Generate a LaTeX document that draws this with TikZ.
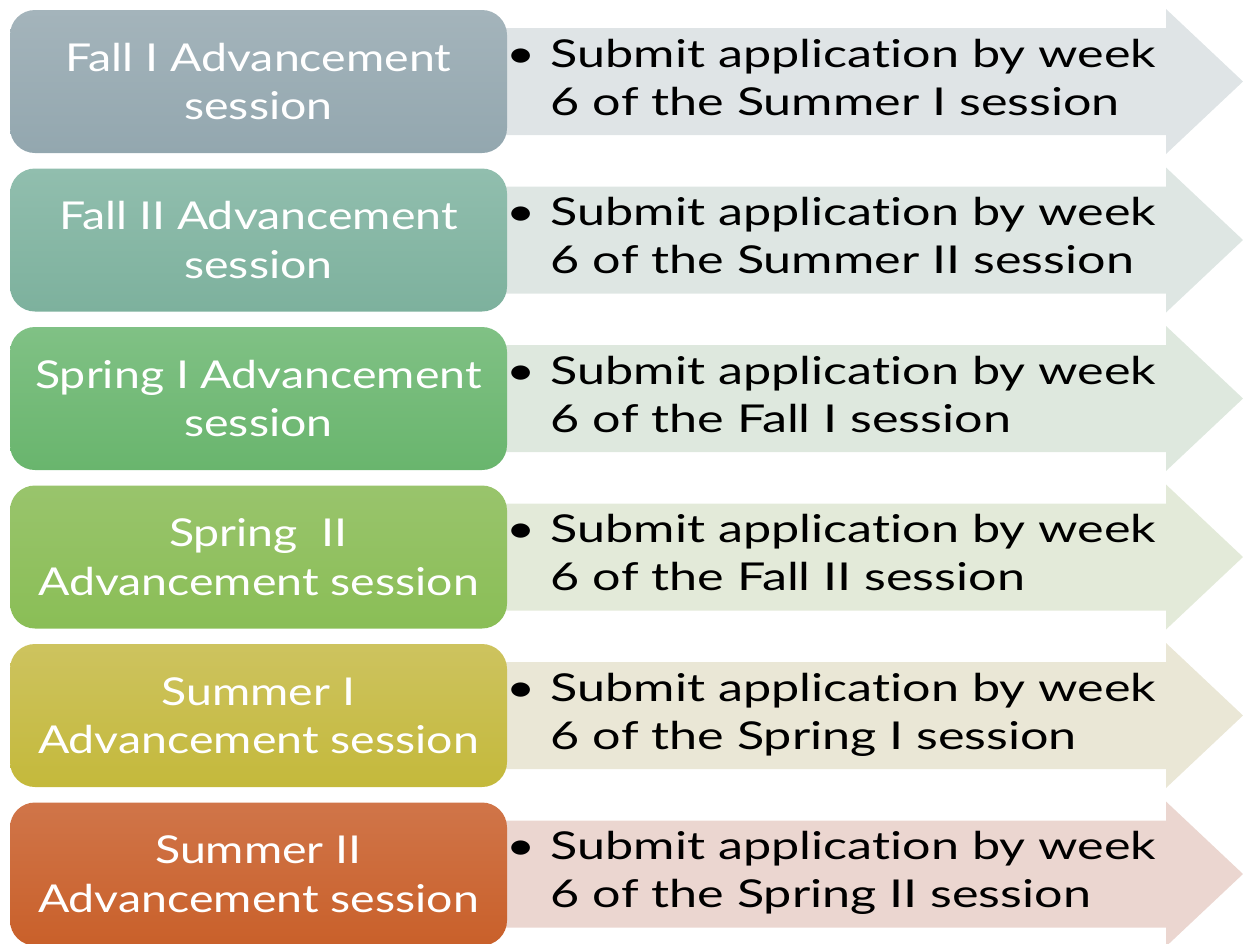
\documentclass[tikz,border=0pt]{standalone}
\usepackage{fontspec}
\setmainfont{Lato}[Ligatures=NoCommon]
\newfontfamily\boxfont{Lato}[FakeStretch=1.21, Ligatures=NoCommon]
\newfontfamily\listfont{Lato}[FakeStretch=1.31, Ligatures=NoCommon]
\usetikzlibrary{positioning}

\definecolor{boxAt}{HTML}{A4B4BB}\definecolor{boxAb}{HTML}{93A7AF}\definecolor{arrA}{HTML}{DFE4E6}
\definecolor{boxBt}{HTML}{91BEAE}\definecolor{boxBb}{HTML}{7DB19D}\definecolor{arrB}{HTML}{DEE6E3}
\definecolor{boxCt}{HTML}{80C185}\definecolor{boxCb}{HTML}{69B56D}\definecolor{arrC}{HTML}{DEE8DE}
\definecolor{boxDt}{HTML}{99C46C}\definecolor{boxDb}{HTML}{8ABE56}\definecolor{arrD}{HTML}{E3EAD9}
\definecolor{boxEt}{HTML}{CDC35F}\definecolor{boxEb}{HTML}{C4B93B}\definecolor{arrE}{HTML}{EAE7D6}
\definecolor{boxFt}{HTML}{D07549}\definecolor{boxFb}{HTML}{C9602A}\definecolor{arrF}{HTML}{EBD6D0}

\begin{document}
\begin{tikzpicture}[
    x=0.75pt, y=-0.75pt,
    sb/.style={rounded corners=18.75pt, minimum width=372.75pt, minimum height=107.25pt, inner sep=0pt, align=center, text=white, text depth=0pt, font=\boxfont\fontsize{28.8pt}{36.5pt}\selectfont},
    st/.style={anchor=west, inner sep=0pt, align=left, text=black, text depth=0pt, font=\listfont\fontsize{28.8pt}{36pt}\selectfont}
    ]
\useasboundingbox (0,0) rectangle (1243,943);
% arrows behind the boxes
\fill[arrA] (500,28) -- (1166,28) -- (1166,9) -- (1243,81.5) -- (1166,154) -- (1166,135) -- (500,135) -- cycle;
\fill[arrB] (500,186.5) -- (1166,186.5) -- (1166,167.5) -- (1243,240) -- (1166,312.5) -- (1166,293.5) -- (500,293.5) -- cycle;
\fill[arrC] (500,345) -- (1166,345) -- (1166,326) -- (1243,398.5) -- (1166,471) -- (1166,452) -- (500,452) -- cycle;
\fill[arrD] (500,503.5) -- (1166,503.5) -- (1166,484.5) -- (1243,557) -- (1166,629.5) -- (1166,610.5) -- (500,610.5) -- cycle;
\fill[arrE] (500,662) -- (1166,662) -- (1166,643) -- (1243,715.5) -- (1166,788) -- (1166,769) -- (500,769) -- cycle;
\fill[arrF] (500,820.5) -- (1166,820.5) -- (1166,801.5) -- (1243,874) -- (1166,946.5) -- (1166,927.5) -- (500,927.5) -- cycle;
% session boxes
\node[sb, top color=boxAt, bottom color=boxAb] at (258.5, 81.5) (S1) {Fall I Advancement\\session};
\node[sb, top color=boxBt, bottom color=boxBb] at (258.5, 240) (S2) {Fall II Advancement\\session};
\node[sb, top color=boxCt, bottom color=boxCb] at (258.5, 398.5) (S3) {Spring I Advancement\\session};
\node[sb, top color=boxDt, bottom color=boxDb] at (258.5, 557) (S4) {Spring~~II\\Advancement session};
\node[sb, top color=boxEt, bottom color=boxEb] at (258.5, 715.5) (S5) {Summer I\\Advancement session};
\node[sb, top color=boxFt, bottom color=boxFb] at (258.5, 874) (S6) {Summer II\\Advancement session};
% deadlines
\node[st] at (512, 77) (T1) {\makebox[29pt][l]{\hspace{-4.5pt}\textbullet}Submit application by week\\\hspace*{29pt}6 of the Summer I session};
\node[st] at (512, 235.5) (T2) {\makebox[29pt][l]{\hspace{-4.5pt}\textbullet}Submit application by week\\\hspace*{29pt}6 of the Summer II session};
\node[st] at (512, 394) (T3) {\makebox[29pt][l]{\hspace{-4.5pt}\textbullet}Submit application by week\\\hspace*{29pt}6 of the Fall I session};
\node[st] at (512, 552.5) (T4) {\makebox[29pt][l]{\hspace{-4.5pt}\textbullet}Submit application by week\\\hspace*{29pt}6 of the Fall II session};
\node[st] at (512, 711) (T5) {\makebox[29pt][l]{\hspace{-4.5pt}\textbullet}Submit application by week\\\hspace*{29pt}6 of the Spring I session};
\node[st] at (512, 869.5) (T6) {\makebox[29pt][l]{\hspace{-4.5pt}\textbullet}Submit application by week\\\hspace*{29pt}6 of the Spring II session};
\end{tikzpicture}
\end{document}
